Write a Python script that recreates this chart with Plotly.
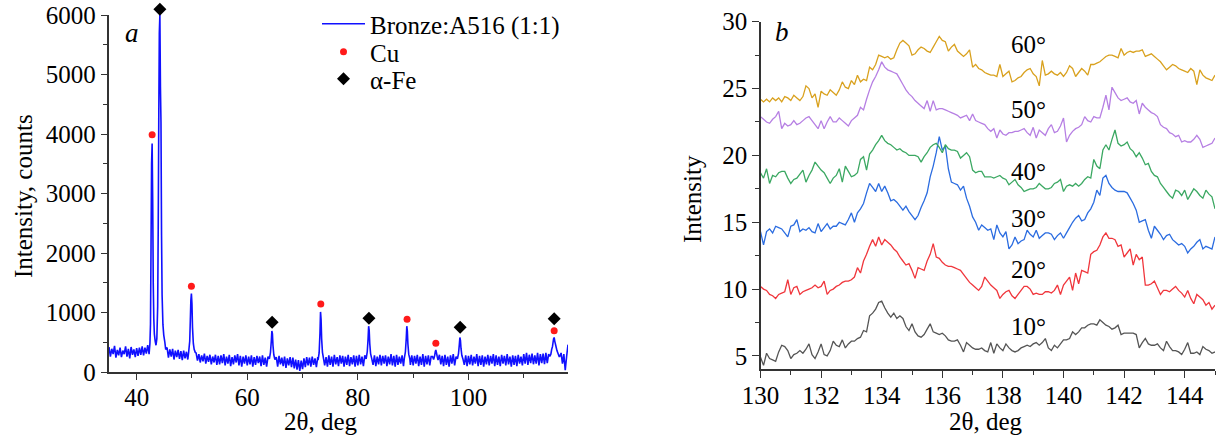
import numpy as np
import plotly.graph_objects as go

FONT = "Liberation Serif"

# ---------------- Panel a: XRD pattern ----------------
base_x0 = 35.0
base_step = 0.25
base_y = [
    420, 260, 390, 300, 440, 240, 370, 280, 410, 250, 360, 300, 430, 260, 390, 230, 420, 290, 380, 250,
    400, 270, 410, 290, 430, 280, 410, 310, 450, 300, 460, 340, 480, 350, 500, 380, 520, 400, 500, 420,
    470, 380, 410, 240, 380, 260, 390, 210, 360, 250, 370, 220, 350, 200, 360, 230, 340, 210, 330, 240,
    380, 340, 300, 320, 190, 300, 160, 280, 180, 310, 140, 270, 170, 290, 130, 260, 160, 290, 120, 270,
    130, 280, 150, 300, 110, 260, 140, 290, 100, 250, 130, 280, 160, 300, 110, 270, 90, 260, 140, 280,
    110, 260, 130, 280, 90, 250, 120, 270, 150, 260, 100, 280, 120, 240, 90, 260, 200, 220, 230, 200,
    110, 250, 90, 270, 130, 240, 100, 260, 70, 230, 110, 250, 80, 240, 60, 210, 40, 200, 20, 190,
    50, 230, 80, 250, 110, 240, 90, 260, 120, 230, 80, 250, 200, 230, 180, 240, 110, 250, 90, 280,
    120, 260, 90, 290, 130, 250, 100, 280, 140, 270, 90, 260, 120, 290, 100, 250, 130, 280, 90, 270,
    110, 290, 130, 260, 100, 280, 200, 230, 200, 220, 230, 120, 280, 100, 260, 130, 290, 110, 270, 140,
    280, 100, 260, 130, 300, 110, 270, 90, 290, 120, 260, 140, 280, 100, 260, 260, 250, 240, 120, 280,
    110, 270, 140, 290, 100, 260, 120, 300, 90, 270, 130, 280, 110, 260, 260, 240, 260, 230, 110, 290,
    130, 270, 100, 290, 120, 260, 90, 280, 140, 300, 110, 260, 230, 240, 260, 250, 230, 120, 280, 100,
    270, 130, 290, 110, 260, 140, 300, 100, 270, 120, 280, 90, 260, 130, 290, 110, 270, 140, 300, 100,
    280, 120, 260, 100, 290, 140, 270, 110, 300, 130, 260, 90, 280, 120, 270, 100, 290, 140, 260, 110,
    300, 140, 320, 120, 290, 150, 310, 130, 280, 140, 320, 110, 300, 150, 310, 130, 320, 150, 300, 280,
    310, 420, 560, 470, 350, 300, 260, 320, 140, 300, 30, 260, 460,
]

peak_x = [
    [42.4, 42.5, 42.6, 42.7, 42.8, 42.9, 43.0, 43.1, 43.2, 43.35, 43.5, 43.65, 43.8, 43.9,
     44.0, 44.1, 44.2, 44.3, 44.4, 44.5, 44.6, 44.75, 44.9, 45.1],
    [49.4, 49.6, 49.7, 49.8, 49.9, 50.0, 50.1, 50.25, 50.4, 50.6],
    [64.0, 64.2, 64.35, 64.45, 64.55, 64.65, 64.8, 65.0],
    [72.8, 73.0, 73.15, 73.25, 73.35, 73.45, 73.6, 73.8],
    [81.5, 81.7, 81.85, 81.95, 82.05, 82.15, 82.3, 82.5],
    [88.4, 88.6, 88.75, 88.85, 88.95, 89.05, 89.2, 89.4],
    [93.7, 93.9, 94.0, 94.1, 94.2, 94.35, 94.5],
    [98.0, 98.2, 98.35, 98.45, 98.55, 98.65, 98.8, 99.0],
    [114.7, 114.9, 115.05, 115.2, 115.3, 115.4, 115.5, 115.6, 115.7, 115.85, 116.0, 116.2, 116.4],
]
peak_y = [
    [480, 800, 2100, 3500, 3840, 2900, 1500, 900, 640, 520, 450, 560, 1100, 2400,
     4250, 5700, 6000, 4800, 4200, 2300, 1300, 800, 620, 500],
    [330, 520, 850, 1200, 1320, 1150, 750, 480, 380, 330],
    [220, 330, 520, 690, 640, 450, 290, 210],
    [200, 320, 650, 1010, 880, 560, 330, 220],
    [220, 340, 560, 770, 700, 480, 310, 230],
    [230, 340, 560, 770, 690, 470, 300, 220],
    [210, 280, 340, 370, 330, 260, 200],
    [220, 310, 460, 580, 530, 400, 280, 220],
    [260, 300, 380, 430, 500, 560, 580, 520, 480, 420, 360, 310, 260],
]

cu_x = [42.8, 49.9, 73.3, 88.9, 94.1, 115.5]
cu_y = [3988, 1440, 1143, 885, 482, 694]
fe_x = [44.2, 64.5, 82.0, 98.5, 115.5]
fe_y = [6095, 835, 902, 751, 896]

# ---------------- Panel b: detail patterns ----------------
b_start = 130.0
b_step = 0.1
angle_labels = ["10°", "20°", "30°", "40°", "50°", "60°"]
label_x = 138.83
label_y = [7.19, 11.43, 15.3, 18.8, 23.4, 28.26]
colors_b = ["#555555", "#F0363C", "#2B6CE0", "#3BA862", "#B67FE3", "#D9A11E"]

i10 = [4.9, 4.3, 5.2, 4.8, 4.7, 4.6, 5.3, 5.8, 5.7, 5.4, 4.8, 5.1, 5.2, 5.4, 5.2, 5.5, 5.9, 5.1, 4.8, 5.3,
       5.9, 5.1, 5.0, 5.4, 6.1, 5.8, 5.7, 6.2, 5.6, 5.9, 6.1, 6.1, 6.3, 6.4, 6.9, 6.8, 8.0, 8.2, 8.5, 9.0,
       9.1, 8.6, 8.2, 7.9, 8.2, 7.8, 8.0, 7.8, 7.2, 6.9, 7.4, 6.8, 6.5, 6.4, 6.6, 7.0, 7.4, 6.8, 6.7, 6.6,
       6.7, 6.5, 6.2, 6.1, 6.1, 6.2, 5.8, 5.3, 6.0, 5.8, 5.6, 5.5, 5.5, 5.6, 5.4, 5.3, 6.0, 5.2, 5.9, 5.6,
       5.4, 5.9, 5.6, 5.4, 5.3, 5.4, 5.6, 5.7, 5.8, 5.7, 5.9, 6.0, 5.8, 6.0, 6.3, 5.6, 5.4, 5.8, 5.6, 5.9,
       6.2, 6.2, 6.3, 6.8, 6.6, 6.8, 7.1, 7.1, 7.3, 7.4, 7.4, 7.3, 7.7, 7.5, 7.3, 7.2, 7.0, 7.1, 7.3, 6.6,
       6.7, 6.7, 6.7, 6.7, 6.6, 5.6, 6.0, 6.3, 5.9, 5.8, 5.8, 5.9, 5.6, 5.4, 6.1, 5.7, 5.4, 5.4, 5.3, 5.1,
       5.5, 6.0, 5.2, 5.2, 5.3, 5.1, 5.7, 5.5, 5.4, 5.2, 5.3]
i20 = [10.2, 10.0, 9.9, 9.6, 9.5, 9.3, 9.6, 9.7, 9.8, 10.7, 9.6, 10.1, 10.2, 9.6, 9.8, 9.9, 10.0, 10.1, 10.3, 10.1,
       10.2, 10.6, 9.6, 9.9, 10.0, 10.2, 10.3, 10.5, 10.6, 10.6, 10.7, 10.9, 11.6, 11.2, 12.1, 12.6, 13.2, 13.7, 13.2, 13.9,
       13.3, 13.7, 13.5, 13.3, 13.0, 12.8, 12.4, 12.1, 11.8, 11.9, 11.4, 10.8, 11.6, 11.5, 11.4, 12.1, 12.6, 13.4, 12.4, 12.3,
       12.0, 11.8, 11.7, 11.7, 11.6, 11.5, 11.4, 11.1, 10.8, 10.5, 10.3, 10.1, 9.9, 10.2, 10.9, 10.6, 10.3, 10.1, 9.9, 9.3,
       9.6, 9.8, 9.9, 9.5, 9.3, 9.6, 9.9, 10.2, 10.2, 10.0, 9.6, 9.7, 9.6, 9.6, 9.8, 9.8, 9.7, 9.9, 10.3, 9.6,
       10.3, 10.6, 10.9, 9.9, 11.2, 10.4, 11.4, 11.3, 11.2, 12.6, 12.8, 12.9, 13.3, 13.9, 14.2, 13.8, 13.8, 13.7, 13.2, 13.3,
       12.4, 12.7, 13.0, 11.8, 12.6, 12.2, 12.4, 10.3, 10.3, 10.4, 10.6, 10.1, 9.6, 9.9, 9.9, 9.8, 10.0, 10.2, 9.9, 9.7,
       9.4, 9.9, 9.3, 8.9, 9.6, 9.4, 9.2, 8.8, 9.0, 8.5, 8.8]
i30 = [14.3, 13.3, 14.3, 14.5, 14.2, 14.7, 14.6, 14.5, 14.2, 13.9, 14.7, 14.8, 15.2, 14.3, 14.5, 14.4, 14.6, 14.3, 14.2, 14.9,
       14.3, 14.6, 14.9, 14.5, 14.7, 14.7, 15.0, 14.9, 14.8, 15.2, 15.7, 15.0, 15.7, 16.0, 16.4, 17.2, 17.9, 17.6, 17.3, 17.9,
       17.3, 17.7, 17.2, 16.6, 16.7, 16.5, 16.2, 15.9, 16.2, 15.8, 15.5, 15.2, 15.5, 16.1, 16.6, 17.2, 18.4, 19.2, 20.2, 21.4,
       20.4, 20.7, 19.0, 18.0, 17.9, 17.8, 17.4, 17.7, 16.8, 16.2, 15.4, 15.0, 14.4, 14.8, 14.6, 14.4, 14.5, 13.7, 14.8, 14.2,
       13.9, 14.3, 13.0, 13.3, 13.9, 13.4, 13.6, 13.7, 14.4, 14.1, 13.9, 14.4, 13.8, 14.0, 14.2, 14.2, 14.1, 13.7, 14.0, 14.2,
       13.8, 14.2, 14.6, 15.0, 15.3, 15.5, 15.1, 15.2, 15.7, 16.0, 16.5, 17.4, 17.0, 18.3, 18.5, 17.9, 17.6, 17.4, 17.3, 17.3,
       17.3, 17.2, 16.8, 16.4, 15.9, 15.0, 15.1, 15.2, 14.4, 13.8, 14.7, 14.4, 14.1, 13.7, 14.0, 14.1, 13.7, 13.5, 13.3, 13.4,
       13.2, 12.7, 13.0, 13.2, 13.5, 13.7, 13.0, 13.2, 13.1, 13.0, 13.9]
i40 = [18.7, 18.3, 19.0, 17.9, 18.5, 18.4, 18.7, 18.8, 18.8, 18.3, 17.9, 18.2, 18.3, 18.6, 18.9, 18.0, 18.5, 18.9, 19.5, 19.2,
       18.9, 18.7, 18.3, 17.9, 18.3, 18.5, 19.0, 18.0, 19.2, 18.8, 18.4, 18.5, 18.7, 19.7, 19.9, 18.9, 20.1, 20.4, 20.8, 21.1,
       21.5, 21.1, 20.9, 20.8, 20.6, 20.4, 20.5, 20.3, 20.2, 20.0, 20.0, 20.0, 19.9, 19.5, 19.9, 20.2, 20.6, 20.8, 20.9, 20.6,
       20.2, 20.8, 20.5, 20.4, 20.4, 20.3, 19.8, 20.0, 20.2, 19.9, 18.9, 18.7, 18.8, 18.8, 18.4, 18.4, 18.4, 18.3, 18.4, 18.5,
       18.3, 18.2, 17.8, 18.0, 18.2, 17.8, 17.6, 17.3, 17.4, 17.5, 17.5, 17.6, 17.9, 17.7, 17.5, 17.5, 17.6, 17.9, 18.0, 18.2,
       17.3, 17.7, 17.8, 17.7, 17.9, 17.7, 17.9, 18.2, 18.4, 18.3, 19.7, 19.2, 19.0, 20.4, 20.8, 20.4, 21.2, 21.9, 20.9, 20.7,
       20.8, 21.0, 20.5, 20.3, 19.9, 20.2, 19.8, 19.3, 19.4, 18.8, 18.5, 18.4, 17.9, 17.6, 17.3, 17.0, 16.8, 17.4, 17.3, 17.0,
       17.4, 16.7, 17.1, 17.5, 17.3, 17.0, 16.8, 17.4, 17.1, 16.9, 16.0]
i50 = [22.9, 22.7, 22.5, 22.4, 22.7, 22.9, 23.3, 22.0, 22.4, 22.2, 22.3, 22.6, 22.3, 22.4, 22.6, 22.8, 22.9, 22.6, 22.3, 22.0,
       22.6, 22.0, 22.5, 22.9, 22.5, 22.5, 22.8, 22.6, 22.4, 22.2, 22.6, 22.8, 23.0, 23.6, 23.4, 24.2, 24.9, 25.5, 25.9, 26.4,
       27.0, 26.6, 26.4, 26.3, 26.2, 26.1, 25.7, 25.3, 24.9, 24.6, 24.4, 24.1, 23.9, 23.7, 23.5, 24.1, 23.3, 24.1, 23.4, 23.5,
       23.5, 23.4, 23.3, 23.2, 23.1, 23.0, 22.8, 22.9, 23.0, 22.6, 23.1, 22.6, 22.5, 22.4, 22.3, 22.0, 21.8, 22.0, 21.3, 21.9,
       21.6, 21.5, 21.7, 21.7, 21.8, 21.8, 21.9, 22.0, 21.7, 21.5, 22.1, 21.3, 21.9, 21.7, 21.5, 22.0, 22.3, 21.7, 21.8, 22.2,
       22.8, 21.0, 21.5, 21.8, 22.0, 22.1, 22.3, 22.9, 22.6, 22.5, 22.9, 22.8, 22.8, 23.6, 24.5, 23.4, 25.1, 24.7, 24.3, 24.1,
       24.2, 24.3, 24.0, 23.9, 24.1, 23.1, 23.9, 23.6, 23.4, 23.2, 23.1, 22.9, 22.3, 22.1, 22.0, 21.7, 21.6, 21.4, 21.5, 21.0,
       21.1, 21.0, 21.0, 21.2, 21.5, 21.2, 20.6, 20.7, 20.8, 20.9, 21.3]
i60 = [24.2, 24.0, 24.2, 24.0, 24.3, 24.1, 24.3, 24.0, 24.4, 24.3, 24.1, 24.5, 24.3, 24.1, 24.4, 25.2, 25.0, 24.3, 24.6, 23.6,
       24.8, 24.6, 24.5, 24.9, 24.7, 24.5, 24.9, 25.5, 25.1, 25.0, 25.6, 25.3, 26.0, 25.5, 25.7, 25.6, 26.6, 26.4, 26.8, 27.5,
       27.4, 27.3, 27.4, 27.2, 27.3, 27.9, 28.4, 28.6, 28.4, 28.2, 27.5, 27.6, 27.9, 28.1, 28.0, 27.8, 27.7, 28.1, 28.5, 28.9,
       28.6, 28.5, 27.8, 28.1, 28.3, 27.8, 27.6, 27.4, 27.6, 27.9, 26.6, 26.8, 26.5, 26.4, 26.2, 26.1, 26.0, 26.0, 25.9, 26.8,
       25.9, 26.1, 26.3, 25.5, 25.6, 25.8, 25.9, 26.2, 26.4, 26.5, 26.1, 25.9, 25.2, 27.1, 26.0, 26.1, 26.3, 26.1, 26.0, 26.2,
       25.9, 26.2, 26.7, 26.5, 25.9, 26.2, 26.5, 26.3, 26.0, 26.8, 26.8, 26.9, 27.0, 27.2, 27.4, 27.5, 27.5, 27.4, 27.3, 28.0,
       27.5, 27.7, 27.8, 27.7, 27.8, 27.8, 27.9, 27.4, 27.5, 27.6, 27.4, 27.2, 27.0, 26.7, 26.4, 26.6, 26.8, 26.7, 26.5, 26.4,
       26.3, 26.2, 26.5, 26.3, 25.3, 26.4, 26.0, 25.8, 25.7, 25.6, 26.0]
series_b = [i10, i20, i30, i40, i50, i60]

# ---------------- Build panel a line ----------------
bx = base_x0 + base_step * np.arange(len(base_y))
by = np.array(base_y, dtype=float)
keep = np.ones(len(bx), dtype=bool)
for px in peak_x:
    keep &= ~((bx >= px[0]) & (bx <= px[-1]))
ax_all = np.concatenate([bx[keep]] + [np.array(p, float) for p in peak_x])
ay_all = np.concatenate([by[keep]] + [np.array(p, float) for p in peak_y])
order = np.argsort(ax_all)
ax_all, ay_all = ax_all[order], ay_all[order]

# ---------------- geometry (page pixels; body margin removed) ----------------
FIG_W, FIG_H = 1218, 440
M_L, M_R, M_T, M_B = 109, 3, 3, 68
W_PLOT = FIG_W - M_L - M_R
H_PLOT = FIG_H - M_T - M_B
BOT = FIG_H - M_B


def px_x(fx):
    return (fx - M_L) / W_PLOT


def px_y(fy):
    return (BOT - fy) / H_PLOT


YA_TOP = px_y(15)
Y_MAX = 6000.0
Y3_MAX = Y_MAX / YA_TOP

xa_dom = [0, px_x(568)]
xb_dom = [px_x(760.5), 1]
yb_dom = [px_y(369.3), px_y(21.7)]

fig = go.Figure()
fig.add_trace(go.Scatter(x=ax_all, y=ay_all, mode="lines", name="Bronze:A516 (1:1)",
                         line=dict(color="#1010FF", width=1.6, simplify=False),
                         xaxis="x", yaxis="y", legend="legend"))
fig.add_trace(go.Scatter(x=cu_x, y=cu_y, mode="markers", name="Cu",
                         marker=dict(color="#FF1A1A", size=7, symbol="circle"),
                         cliponaxis=False, xaxis="x", yaxis="y3", legend="legend2"))
fig.add_trace(go.Scatter(x=fe_x, y=fe_y, mode="markers", name="α-Fe",
                         marker=dict(color="black", size=10, symbol="diamond"),
                         cliponaxis=False, xaxis="x", yaxis="y3", legend="legend3"))

xb = b_start + b_step * np.arange(len(i10))
for s, c in zip(series_b, colors_b):
    fig.add_trace(go.Scatter(x=xb, y=s, mode="lines", line=dict(color=c, width=1.3, simplify=False),
                             showlegend=False, xaxis="x2", yaxis="y2"))

tfont = dict(family=FONT, size=25, color="black")
ann = []
for t, yv in zip(angle_labels, label_y):
    ann.append(dict(x=label_x, y=yv, xref="x2", yref="y2", text=t, showarrow=False,
                    font=tfont, xanchor="center", yanchor="middle"))
ann.append(dict(x=39.2, y=5700, xref="x", yref="y", text="<i>a</i>", showarrow=False,
                font=dict(family=FONT, size=27, color="black")))
ann.append(dict(x=130.7, y=29.2, xref="x2", yref="y2", text="<i>b</i>", showarrow=False,
                font=dict(family=FONT, size=27, color="black")))
# axis titles
ann.append(dict(x=px_x(321), y=px_y(421), xref="paper", yref="paper", text="2θ, deg",
                showarrow=False, font=tfont, xanchor="center", yanchor="middle"))
ann.append(dict(x=px_x(986), y=px_y(421), xref="paper", yref="paper", text="2θ, deg",
                showarrow=False, font=tfont, xanchor="center", yanchor="middle"))
ann.append(dict(x=px_x(23), y=px_y(196), xref="paper", yref="paper", text="Intensity, counts",
                showarrow=False, font=tfont, textangle=-90, xanchor="center", yanchor="middle"))
ann.append(dict(x=px_x(692), y=px_y(199), xref="paper", yref="paper", text="Intensity",
                showarrow=False, font=tfont, textangle=-90, xanchor="center", yanchor="middle"))

axis_common = dict(showline=True, linecolor="#333333", linewidth=1.5, ticks="outside",
                   tickcolor="#333333", tickwidth=1.2, ticklen=6.5, showgrid=False, zeroline=False,
                   tickfont=dict(family=FONT, size=25, color="black"), mirror=False,
                   automargin=False, ticklabeloverflow="allow")
minor_common = dict(ticks="outside", ticklen=4, tickcolor="#333333", tickwidth=1.2)

leg_common = dict(xanchor="left", yanchor="middle", bgcolor="rgba(0,0,0,0)",
                  font=dict(family=FONT, size=25, color="black"), itemwidth=43,
                  xref="paper", yref="paper")
leg_x = px_x(317)

fig.update_layout(
    width=FIG_W, height=FIG_H,
    margin=dict(l=M_L, r=M_R, t=M_T, b=M_B, autoexpand=False),
    paper_bgcolor="white", plot_bgcolor="rgba(0,0,0,0)",
    font=dict(family=FONT, size=24, color="black"),
    xaxis=dict(domain=xa_dom, range=[35, 118], tick0=0, dtick=20, anchor="y",
               ticklabelstandoff=-4,
               minor=dict(dtick=10, **minor_common), **axis_common),
    yaxis=dict(domain=[0, YA_TOP], range=[0, Y_MAX], tick0=0, dtick=1000, anchor="x",
               minor=dict(dtick=500, **minor_common), **axis_common),
    yaxis3=dict(domain=[0, 1], range=[0, Y3_MAX], anchor="x", visible=False, showgrid=False,
                zeroline=False, automargin=False),
    xaxis2=dict(domain=xb_dom, range=[130, 145], tick0=130, dtick=2, anchor="y2",
                ticklabelstandoff=-4,
                minor=dict(dtick=1, **minor_common), **axis_common),
    yaxis2=dict(domain=yb_dom, range=[4, 30], tick0=0, dtick=5, anchor="x2",
                minor=dict(dtick=2.5, **minor_common), **axis_common),
    legend=dict(x=leg_x, y=px_y(24), **leg_common),
    legend2=dict(x=leg_x, y=px_y(52), **leg_common),
    legend3=dict(x=leg_x, y=px_y(79), **leg_common),
    annotations=ann,
)

fig.write_html("out.html", config={"displayModeBar": False},
               post_script="document.body.style.margin='0';document.body.style.overflow='hidden';")
